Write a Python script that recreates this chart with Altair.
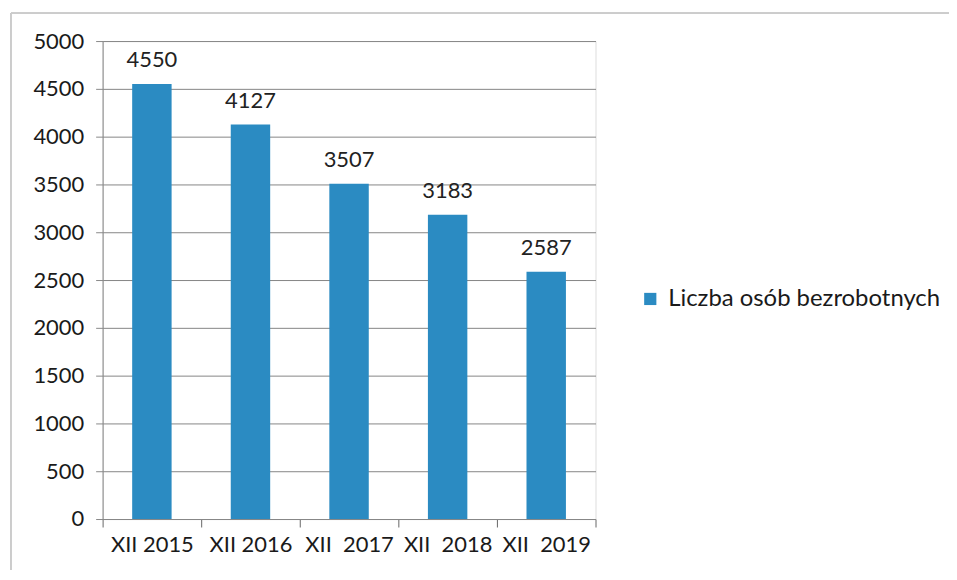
import altair as alt
import pandas as pd

NB = "\u00a0"
categories = ["XII 2015", "XII 2016", "XII" + NB + NB + "2017", "XII" + NB + NB + "2018", "XII" + NB + NB + "2019"]
values = [4550, 4127, 3507, 3183, 2587]
series_name = "Liczba osób bezrobotnych"

df = pd.DataFrame({"okres": categories, "wartosc": values, "seria": [series_name] * len(values)})

FONT = "Lato"
BLUE = "#2B8BC2"

x = alt.X("okres:N", sort=categories, title=None,
          scale=alt.Scale(paddingInner=0, paddingOuter=0),
          axis=alt.Axis(labelAngle=0, labelFontSize=22, labelColor="#1a1a1a", labelFont=FONT,
                        tickBand="extent", tickSize=8, tickColor="#666", domainColor="#888",
                        labelPadding=8, grid=False, labelLimit=200))
y = alt.Y("wartosc:Q", title=None,
          scale=alt.Scale(domain=[0, 5000], nice=False),
          axis=alt.Axis(values=list(range(0, 5001, 500)), format="d", labelFontSize=22,
                        labelColor="#1a1a1a", labelFont=FONT, tickSize=7, tickColor="#888",
                        domainColor="#888", gridColor="#858585", gridWidth=1, labelPadding=12))

bars = alt.Chart(df).mark_bar(color=BLUE, width=alt.RelativeBandSize(0.4)).encode(
    x=x, y=y,
    color=alt.Color("seria:N", scale=alt.Scale(range=[BLUE]),
                    legend=alt.Legend(title=None, orient="none", legendX=538, legendY=247,
                                      symbolType="square", symbolSize=150, labelFontSize=24,
                                      labelFont=FONT, labelColor="#1a1a1a", labelLimit=400,
                                      labelOffset=6, symbolStrokeWidth=0)))

labels = alt.Chart(df).mark_text(baseline="bottom", dy=-12, fontSize=22, font=FONT, color="#222").encode(
    x=alt.X("okres:N", sort=categories), y="wartosc:Q", text="wartosc:Q")

frame_left = alt.Chart(df).mark_rule(color="#cccccc", strokeWidth=1.5).encode(
    x=alt.value(-92), y=alt.value(-28), y2=alt.value(545))
frame_top = alt.Chart(df).mark_rule(color="#cccccc", strokeWidth=1.5).encode(
    x=alt.value(-92), x2=alt.value(860), y=alt.value(-28))

chart = alt.layer(frame_left, frame_top, bars, labels).properties(
    width=495, height=480,
    autosize=alt.AutoSizeParams(type="none"),
    padding={"left": 95, "top": 32, "right": 355, "bottom": 50},
).configure_view(stroke=None).configure(background="white")

chart.save("out.html", embed_options={"renderer": "svg", "actions": False})
